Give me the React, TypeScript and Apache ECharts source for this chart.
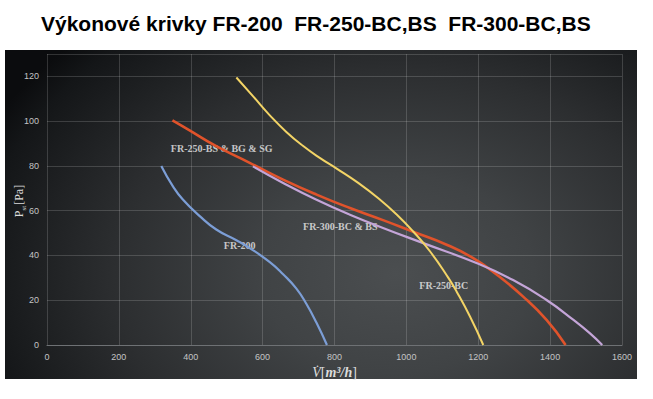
import React, { useEffect, useRef } from "react";
import * as echarts from "echarts";

const titleText = "Výkonové krivky FR-200\u00a0\u00a0FR-250-BC,BS\u00a0\u00a0FR-300-BC,BS";

const xTicks = { min: 0, max: 1600, interval: 200 };
const yTicks = { min: 0, max: 130, interval: 20 };

// FR-200 (blue)
const fr200Flow = [318, 350, 378, 425, 471, 527, 564, 620, 657, 694, 722, 750, 779];
const fr200Pres = [80, 71, 65, 57.6, 51.6, 46.8, 43.3, 37, 31.6, 25.2, 18.3, 9.9, 0];

// FR-250-BS & BG & SG (orange)
const fr250bsFlow = [349, 392, 471, 564, 657, 750, 843, 935, 1019, 1112, 1186, 1251, 1325, 1390, 1443];
const fr250bsPres = [100.3, 96.3, 88.8, 81.4, 73.9, 67.2, 61.2, 55.8, 50.6, 44.8, 38.8, 31.5, 21.6, 11.2, 0];

// FR-300-BC & BS (purple)
const fr300Flow = [573, 657, 750, 843, 935, 1047, 1195, 1297, 1390, 1465, 1511, 1545];
const fr300Pres = [79.8, 72.4, 64.9, 58.2, 52.3, 45.5, 36.6, 29, 20.1, 11.2, 5.2, 0];

// FR-250-BC (yellow)
const fr250bcFlow = [527, 573, 620, 666, 712, 759, 806, 866, 926, 973, 1019, 1065, 1116, 1140, 1177, 1214];
const fr250bcPres = [119.5, 111.2, 102.6, 95.2, 89, 83.6, 78.8, 72.4, 65, 58.3, 50.7, 42, 30.2, 23.8, 12.7, 0];

// Curve labels (name, flow, pressure anchor)
const labelNames = ["FR-250-BS & BG & SG", "FR-200", "FR-300-BC & BS", "FR-250-BC"];
const labelFlow = [486, 536, 816, 1104];
const labelPres = [87.8, 44.5, 53, 26.4];

const zip = (a: number[], b: number[]) => a.map((v, i) => [v, b[i]]);

export default function App() {
  const ref = useRef<HTMLDivElement>(null);

  useEffect(() => {
    if (!ref.current) return;
    const chart = echarts.init(ref.current, undefined, { renderer: "svg" });
    const lineSeries = (name: string, data: number[][], color: string, width: number) => ({
      type: "line",
      name,
      data,
      smooth: 0.5,
      showSymbol: false,
      symbol: "none",
      lineStyle: { color, width },
      itemStyle: { color },
    });
    chart.setOption({
      animation: false,
      backgroundColor: "transparent",
      title: {
        text: titleText,
        left: 36,
        top: 8,
        textStyle: {
          fontFamily: "Liberation Sans",
          fontWeight: "bold",
          fontSize: 21,
          color: "#000",
        },
      },
      graphic: [
        {
          type: "text",
          x: 19,
          y: 201,
          rotation: Math.PI / 2,
          style: {
            text: "{a|P}{s|st}{a|[Pa]}",
            align: "center",
            verticalAlign: "middle",
            rich: {
              a: { fontFamily: "Liberation Serif", fontSize: 12, fill: "#dcdcdc", verticalAlign: "bottom" },
              s: { fontFamily: "Liberation Serif", fontSize: 7, fill: "#dcdcdc", verticalAlign: "bottom", padding: [0, 1, -2, 0] },
            },
          },
        },
      ],
      grid: { left: 47, right: 31, top: 54, height: 291, outerBoundsMode: "none", containLabel: false },
      xAxis: {
        type: "value",
        min: xTicks.min,
        max: xTicks.max,
        interval: xTicks.interval,
        name: "{v|V̇}{b|[}{m|m³/h}{b|]}",
        nameLocation: "middle",
        nameGap: 15,
        nameTextStyle: {
          rich: {
            v: { fontFamily: "Liberation Serif", fontStyle: "italic", fontSize: 14, color: "#dcdcdc" },
            b: { fontFamily: "Liberation Serif", fontSize: 14, color: "#dcdcdc" },
            m: { fontFamily: "Liberation Serif", fontStyle: "italic", fontWeight: "bold", fontSize: 14, color: "#dcdcdc" },
          },
        },
        axisLine: { show: true, lineStyle: { color: "#6e7174", width: 1 } },
        axisTick: { show: false },
        axisLabel: {
          color: "#c4c4c4",
          fontSize: 9,
          fontFamily: "Liberation Sans",
          margin: 7,
          formatter: (v: number) => String(v),
        },
        splitLine: { show: true, lineStyle: { color: "rgba(255,255,255,0.16)", width: 1 } },
      },
      yAxis: {
        type: "value",
        min: yTicks.min,
        max: yTicks.max,
        interval: yTicks.interval,
        axisLine: { show: false },
        axisTick: { show: false },
        axisLabel: {
          color: "#c4c4c4",
          fontSize: 9,
          fontFamily: "Liberation Sans",
          margin: 8,
          showMaxLabel: false,
          formatter: (v: number) => String(v),
        },
        splitLine: { show: true, lineStyle: { color: "rgba(255,255,255,0.16)", width: 1 } },
      },
      series: [
        lineSeries("FR-250-BS & BG & SG", zip(fr250bsFlow, fr250bsPres), "#e0532b", 2.6),
        lineSeries("FR-300-BC & BS", zip(fr300Flow, fr300Pres), "#c4a5d8", 2.2),
        lineSeries("FR-250-BC", zip(fr250bcFlow, fr250bcPres), "#f3d466", 2),
        lineSeries("FR-200", zip(fr200Flow, fr200Pres), "#7c9ed6", 2.2),
        {
          type: "scatter",
          name: "labels",
          symbolSize: 0,
          silent: true,
          data: labelNames.map((n, i) => ({ name: n, value: [labelFlow[i], labelPres[i]] })),
          label: {
            show: true,
            position: "inside",
            formatter: (p: any) => p.name,
            fontFamily: "Liberation Serif",
            fontWeight: "bold",
            fontSize: 10,
            color: "#ececec",
          },
        },
      ],
    });
    return () => chart.dispose();
  }, []);

  return (
    <div style={{ position: "absolute", left: 0, top: 0, width: 653, height: 399, background: "#fff" }}>
      <div
        style={{
          position: "absolute",
          left: 5,
          top: 50,
          width: 632,
          height: 329,
          background:
            "radial-gradient(ellipse 72% 100% at 62% 68%, #4b4e50 0%, #404345 30%, #2c2e30 62%, #141618 92%, #0b0c0e 100%)",
        }}
      />
      <div ref={ref} style={{ position: "absolute", left: 0, top: 0, width: 653, height: 399 }} />
    </div>
  );
}
